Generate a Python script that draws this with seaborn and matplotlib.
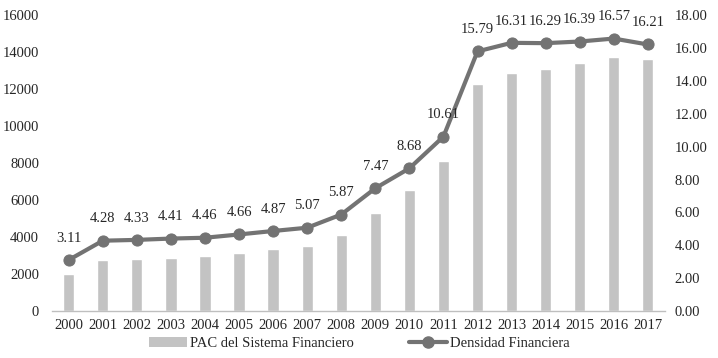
import numpy as np
import pandas as pd
import matplotlib
matplotlib.use("Agg")
import matplotlib.pyplot as plt
import seaborn as sns
from matplotlib.patches import Patch
from matplotlib.lines import Line2D

# ==========================================
# Data
# ==========================================

years = [str(y) for y in range(2000, 2018)]
pac = [2000, 2750, 2800, 2870, 2970, 3130, 3350, 3500, 4100, 5300,
       6540, 8120, 12300, 12880, 13060, 13390, 13750, 13620]
densidad = [3.11, 4.28, 4.33, 4.41, 4.46, 4.66, 4.87, 5.07, 5.87, 7.47,
            8.68, 10.61, 15.79, 16.31, 16.29, 16.39, 16.57, 16.21]

df = pd.DataFrame({"year": years, "pac": pac, "densidad": densidad})
df["pos"] = np.arange(len(df))

# ==========================================
# Plot
# ==========================================

sns.set_style("white")
plt.rcParams["font.family"] = ["Liberation Serif", "DejaVu Serif"]

bar_color = "#c3c3c3"
line_color = "#737373"
fs = 10.5

fig = plt.figure(figsize=(7.18, 3.58), dpi=100)
ax = fig.add_axes([0.072, 0.131, 0.854, 0.827])

sns.barplot(data=df, x="year", y="pac", color=bar_color, width=0.33,
            saturation=1, ax=ax)
ax.set_ylim(0, 16000)
ax.set_xlim(-0.5, len(df) - 0.5)
ax.set_yticks(np.arange(0, 16001, 2000))
ax.set_xlabel("")
ax.set_ylabel("")

for s in ["top", "right", "left"]:
    ax.spines[s].set_visible(False)
ax.spines["bottom"].set_color("#bfbfbf")
ax.spines["bottom"].set_linewidth(1)

ax.set_xticks(np.arange(len(df)))
ax.set_xticklabels(years)
ax.set_xticks(np.arange(-0.5, len(df), 1), minor=True)
ax.tick_params(axis="x", which="major", length=0, labelsize=fs, pad=6)
ax.tick_params(axis="x", which="minor", length=4, color="#bfbfbf", width=1)
ax.tick_params(axis="y", length=0, labelsize=fs, pad=9)

ax2 = ax.twinx()
sns.lineplot(data=df, x="pos", y="densidad", color=line_color, linewidth=3,
             marker="o", markersize=8, markeredgecolor=line_color, ax=ax2)
ax2.set_ylim(0, 18)
ax2.set_yticks(np.arange(0, 18.1, 2))
ax2.set_yticklabels([f"{v:.2f}" for v in np.arange(0, 18.1, 2)])
ax2.set_xlim(-0.5, len(df) - 0.5)
ax2.set_ylabel("")
ax2.set_xlabel("")
for s in ax2.spines.values():
    s.set_visible(False)
ax2.tick_params(axis="y", length=0, labelsize=fs, pad=7)

for xpos, v in zip(df["pos"], densidad):
    ax2.annotate(f"{v:.2f}", (xpos, v), xytext=(0, 11),
                 textcoords="offset points", ha="center", va="bottom",
                 fontsize=fs)

handles = [Patch(facecolor=bar_color, edgecolor="none"),
           Line2D([0], [0], color=line_color, lw=3, marker="o", markersize=8)]
fig.legend(handles, ["PAC del Sistema Financiero", "Densidad Financiera"],
           loc="lower center", bbox_to_anchor=(0.5, -0.015), ncol=2,
           frameon=False, fontsize=fs, handlelength=2.6, columnspacing=3.8,
           handletextpad=0.2)

plt.savefig("out.png", dpi=100)
